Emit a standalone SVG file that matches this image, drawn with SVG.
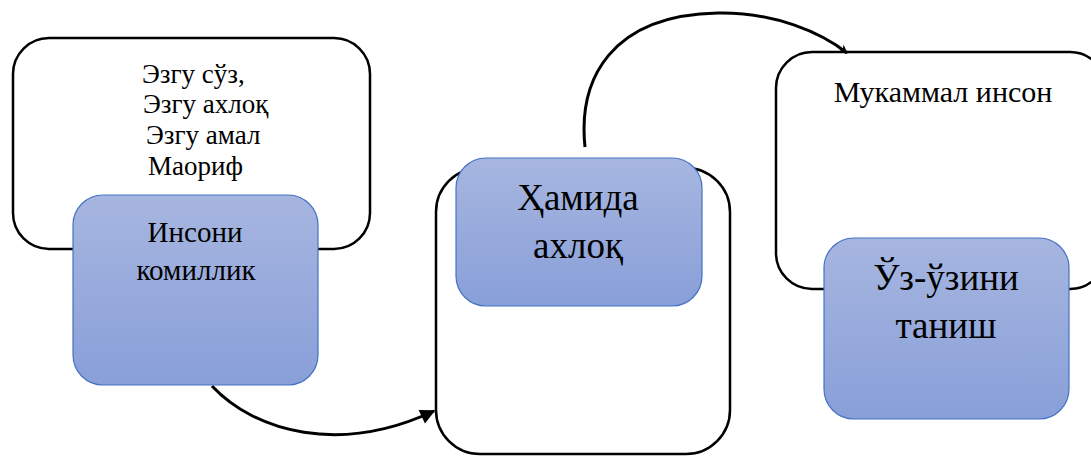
<svg xmlns="http://www.w3.org/2000/svg" width="1091" height="457" viewBox="0 0 1091 457">
<defs>
<linearGradient id="blueGrad" x1="0" y1="0" x2="0" y2="1">
<stop offset="0" stop-color="#a7b6e0"/>
<stop offset="1" stop-color="#889fd8"/>
</linearGradient>
<marker id="arrowBig" viewBox="0 0 10 10" refX="9" refY="5" markerWidth="5.5" markerHeight="5" markerUnits="strokeWidth" orient="auto">
<path d="M0,0 L10,5 L0,10 z" fill="#000"/>
</marker>
<marker id="arrowSmall" viewBox="0 0 10 10" refX="9" refY="5" markerWidth="3.5" markerHeight="3" markerUnits="strokeWidth" orient="auto">
<path d="M0,0 L10,5 L0,10 L3,5 z" fill="#000"/>
</marker>
</defs>
<style>
.outline{fill:#fff;stroke:#000;stroke-width:2.5}
.blue{fill:url(#blueGrad);stroke:#4472c4;stroke-width:1.2}
.conn{fill:none;stroke:#000;stroke-width:3}
text{font-family:"Liberation Serif","Times New Roman",serif;fill:#000}
.small{font-size:27px}
.muk{font-size:30px;text-anchor:middle}
.mid{font-size:29px;text-anchor:middle}
.big{font-size:37px;text-anchor:middle}
</style>

<g id="node-values">
<rect class="outline" x="13" y="38" width="357" height="211" rx="36" ry="36"/>
<text class="small" x="142" y="83">Эзгу сўз,</text>
<text class="small" x="143" y="113">Эзгу ахлоқ</text>
<text class="small" x="146" y="144">Эзгу амал</text>
<text class="small" x="148" y="175">Маориф</text>
</g>

<g id="node-container-b">
<rect class="outline" x="436" y="168" width="294" height="286" rx="44" ry="44"/>
</g>

<g id="node-mukammal">
<rect class="outline" x="776" y="52" width="330" height="237" rx="36" ry="36"/>
<text class="muk" x="943" y="102">Мукаммал инсон</text>
</g>

<g id="connectors">
<path class="conn" d="M212,386 C255,432 340,455 434,411" marker-end="url(#arrowBig)"/>
<path class="conn" d="M585,147 C578,80 610,15 718,13 C775,12 822,33 847,53" marker-end="url(#arrowSmall)"/>
</g>

<g id="node-insoni">
<rect class="blue" x="73" y="195" width="245" height="190" rx="30" ry="30"/>
<text class="mid" x="195" y="242">Инсони</text>
<text class="mid" x="196" y="280">комиллик</text>
</g>

<g id="node-hamida">
<rect class="blue" x="456" y="158" width="246" height="148" rx="30" ry="30"/>
<text class="big" x="578" y="210">Ҳамида</text>
<text class="big" x="578" y="258">ахлоқ</text>
</g>

<g id="node-uzuzini">
<rect class="blue" x="824" y="238" width="245" height="181" rx="30" ry="30"/>
<text class="big" x="946" y="290">Ўз-ўзини</text>
<text class="big" x="946" y="338">таниш</text>
</g>
</svg>
